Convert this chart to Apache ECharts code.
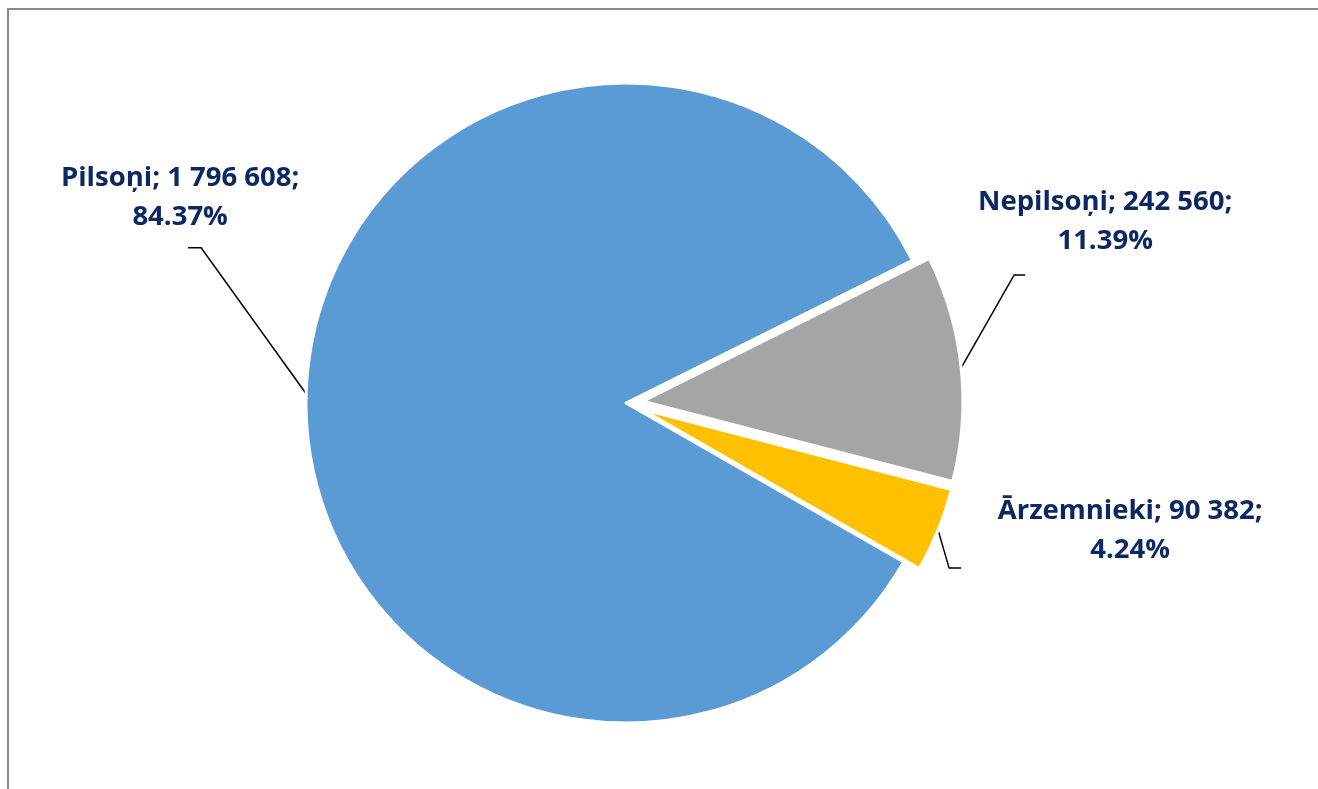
<!DOCTYPE html>
<html>
<head>
<meta charset="utf-8">
<script src="https://cdn.jsdelivr.net/npm/echarts@6/dist/echarts.min.js"></script>
<style>
  html, body { margin: 0; padding: 0; background: #fff; }
  #chart { position: absolute; left: 0; top: 0; width: 1318px; height: 789px; }
  #frame { position: absolute; left: 7px; top: 8px; width: 1320px; height: 800px;
           border-top: 2px solid #8a8a8a; border-left: 2px solid #8a8a8a; pointer-events: none; }
</style>
</head>
<body>
<div id="chart"></div>
<div id="frame"></div>
<script>
// ---- data ----
const categories = ['Pilsoņi', 'Nepilsoņi', 'Ārzemnieki'];
const values = [1796608, 242560, 90382];
const colors = ['#5B9BD5', '#A5A5A5', '#FFC000'];
const exploded = [false, true, true];

// ---- layout (not data) ----
const CX = 626, CY = 403, R = 320, OFFSET = 17, START = 330.2;
// label line elbow relative to edge point, horizontal tail length (sign = direction),
// label block centre relative to elbow
const labelGeom = [
  { elbow: [-105, -146], tail: -13, text: [-21, -50] },
  { elbow: [53, -93],   tail: 11,  text: [91, -53] },
  { elbow: [11, 38],    tail: 12,  text: [181, -37] }
];

function fmtNum(v) {
  return String(v).replace(/\B(?=(\d{3})+(?!\d))/g, ' ');
}

const total = values.reduce((a, b) => a + b, 0);
const midAngles = [];
(function () {
  let a = START;
  values.forEach(v => {
    const span = v / total * 360;
    midAngles.push(a - span / 2);
    a -= span;
  });
})();

// percentages with 2 decimals (largest remainder so they sum to 100)
function percents() {
  const raw = values.map(v => v / total * 10000);
  const fl = raw.map(Math.floor);
  let rest = 10000 - fl.reduce((a, b) => a + b, 0);
  const order = raw.map((r, i) => [r - fl[i], i]).sort((a, b) => b[0] - a[0]);
  for (let k = 0; k < rest; k++) fl[order[k][1]] += 1;
  return fl.map(x => (x / 100).toFixed(2));
}
const pct = percents();

const series = categories.map((cat, s) => {
  const a = midAngles[s] * Math.PI / 180;
  const off = exploded[s] ? OFFSET : 0;
  const cx = CX + off * Math.cos(a), cy = CY - off * Math.sin(a);
  return {
    type: 'pie',
    name: cat,
    center: [cx, cy],
    radius: R,
    startAngle: START,
    clockwise: true,
    avoidLabelOverlap: false,
    emphasis: { disabled: true },
    silent: true,
    label: {
      show: true,
      position: 'outside',
      fontFamily: 'Open Sans',
      fontWeight: 'bold',
      fontSize: 27.5,
      lineHeight: 39,
      color: '#0b2862',
      formatter: p => p.name + '; ' + fmtNum(p.value) + ';\n' + pct[p.dataIndex] + '%'
    },
    labelLine: { show: true, lineStyle: { color: '#000000', width: 1.5 } },
    labelLayout: function (params) {
      const i = params.dataIndex;
      if (i !== s) return {};
      const g = labelGeom[i];
      const edge = [cx + R * Math.cos(a), cy - R * Math.sin(a)];
      const elbow = [edge[0] + g.elbow[0], edge[1] + g.elbow[1]];
      const tail = [elbow[0] + g.tail, elbow[1]];
      return {
        x: elbow[0] + g.text[0],
        y: elbow[1] + g.text[1],
        align: 'center',
        verticalAlign: 'middle',
        labelLinePoints: [edge, elbow, tail]
      };
    },
    data: categories.map((c, i) => ({
      name: c,
      value: values[i],
      itemStyle: i === s
        ? { color: colors[i], borderColor: '#ffffff', borderWidth: 3 }
        : { color: 'rgba(0,0,0,0)', borderWidth: 0 },
      label: { show: i === s },
      labelLine: { show: i === s }
    }))
  };
});

const chart = echarts.init(document.getElementById('chart'), null, { renderer: 'canvas' });
chart.setOption({
  animation: false,
  backgroundColor: '#ffffff',
  series: series
});
</script>
</body>
</html>
